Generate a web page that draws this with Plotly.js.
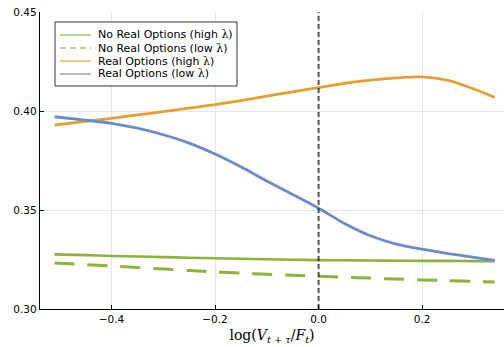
<!DOCTYPE html>
<html>
<head>
<meta charset="utf-8">
<script src="https://cdn.plot.ly/plotly-3.0.1.min.js"></script>
<style>html,body{margin:0;padding:0;background:#fff;}#chart{width:504px;height:347px;}</style>
</head>
<body>
<div id="chart"></div>
<script>
// ---- data ----
const xGrid = [-0.51, -0.45, -0.4, -0.35, -0.3, -0.25, -0.2, -0.15, -0.1, -0.05, 0, 0.05, 0.1, 0.15, 0.2, 0.25, 0.3, 0.34];
const noRoHigh = [0.3276, 0.3272, 0.3268, 0.3265, 0.3262, 0.3259, 0.3256, 0.3254, 0.3251, 0.3249, 0.3247, 0.3246, 0.3245, 0.3244, 0.3243, 0.3243, 0.3242, 0.3242];
const noRoLow  = [0.3232, 0.3224, 0.3217, 0.3209, 0.3202, 0.3194, 0.3187, 0.3181, 0.3176, 0.3170, 0.3165, 0.3160, 0.3156, 0.3151, 0.3147, 0.3143, 0.3139, 0.3136];
const roHigh   = [0.3929, 0.3948, 0.3963, 0.3980, 0.3997, 0.4014, 0.4032, 0.4053, 0.4075, 0.4097, 0.4118, 0.4140, 0.4156, 0.4167, 0.4172, 0.4155, 0.4111, 0.4069];
const roLow    = [0.3971, 0.3954, 0.3938, 0.3913, 0.3880, 0.3838, 0.3783, 0.3718, 0.3646, 0.3578, 0.3509, 0.3432, 0.3370, 0.3328, 0.3302, 0.3280, 0.3261, 0.3245];
const seriesNames = ["No Real Options (high λ)", "No Real Options (low λ)", "Real Options (high λ)", "Real Options (low λ)"];
const xTickVals = [-0.4, -0.2, 0.0, 0.2];
const xTickText = ["−0.4", "−0.2", "0.0", "0.2"];
const yTickVals = [0.30, 0.35, 0.40, 0.45];
const yTickText = ["0.30", "0.35", "0.40", "0.45"];
const vLineX = 0;

// ---- styles ----
const green = "#8db33a", orange = "#e6a030", blue = "#6a8ccb";
const colors = [green, green, orange, blue];
const dashes = ["solid", "20px,13px", "solid", "solid"];
const widths = [2.6, 3, 2.8, 2.8];
const ys = [noRoHigh, noRoLow, roHigh, roLow];

const traces = ys.map((y, i) => ({
  x: xGrid, y: y, type: "scatter", mode: "lines", name: seriesNames[i],
  line: {color: colors[i], width: widths[i], dash: dashes[i], shape: "spline", smoothing: 0.7},
  showlegend: false, hoverinfo: "skip"
}));

// plot-area geometry (pixels) for custom legend
const L = 40, T = 12, W = 464, H = 297;
const px = x => (x - L) / W;
const py = y => 1 - (y - T) / H;

const shapes = [
  {type: "line", xref: "x", yref: "paper", x0: vLineX, x1: vLineX, y0: 0, y1: 1,
   line: {color: "rgba(0,0,0,0.65)", width: 2, dash: "5px,3px"}, layer: "above"},
  {type: "rect", xref: "paper", yref: "paper", x0: px(55), x1: px(237), y0: py(22), y1: py(86),
   fillcolor: "#fff", line: {color: "#333", width: 1}, layer: "above"}
];
const annotations = [];
const rowY = [35, 48, 61, 74];
seriesNames.forEach((n, i) => {
  shapes.push({type: "line", xref: "paper", yref: "paper", x0: px(60), x1: px(91), y0: py(rowY[i]), y1: py(rowY[i]),
    line: {color: colors[i], width: 1.5, dash: i === 1 ? "6px,4px" : "solid"}, opacity: 0.75, layer: "above"});
  annotations.push({xref: "paper", yref: "paper", x: px(96), y: py(rowY[i]), xanchor: "left", yanchor: "middle",
    text: n.replace("λ", '<span style="font-family:\'DejaVu Serif\';">λ</span>'), showarrow: false,
    font: {family: "DejaVu Sans", size: 11, color: "#000"}});
});

const layout = {
  width: 504, height: 347,
  margin: {l: L, r: 504 - L - W, t: T, b: 347 - T - H},
  paper_bgcolor: "#fff", plot_bgcolor: "#fff",
  showlegend: false,
  font: {family: "DejaVu Sans", size: 11, color: "#000"},
  xaxis: {
    range: [-0.538, 0.358], tickvals: xTickVals, ticktext: xTickText,
    showgrid: true, gridcolor: "#e6e6e6", gridwidth: 1, zeroline: false,
    showline: true, linecolor: "#000", linewidth: 1.2,
    ticks: "inside", ticklen: 4, tickcolor: "#000",
    tickfont: {family: "DejaVu Sans", size: 10.5, color: "#000"},
    title: {text: '<span style="font-family:\'DejaVu Serif\';">log(<i>V</i><sub><i>t</i> + <i>τ</i></sub>/<i>F</i><sub><i>t</i></sub>)</span>',
      font: {family: "DejaVu Serif", size: 14, color: "#000"}, standoff: 6}
  },
  yaxis: {
    range: [0.30, 0.45], tickvals: yTickVals, ticktext: yTickText,
    showgrid: true, gridcolor: "#e6e6e6", gridwidth: 1, zeroline: false,
    showline: true, linecolor: "#000", linewidth: 1.2,
    ticks: "inside", ticklen: 4, tickcolor: "#000",
    tickfont: {family: "DejaVu Sans", size: 10.5, color: "#000"}
  },
  shapes: shapes, annotations: annotations
};

Plotly.newPlot("chart", traces, layout, {displayModeBar: false, staticPlot: true});
</script>
</body>
</html>
